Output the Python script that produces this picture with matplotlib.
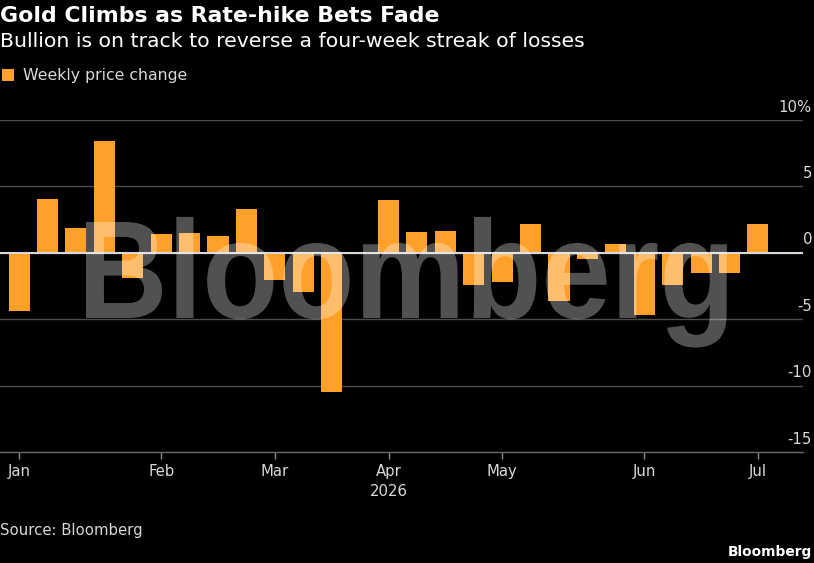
"""Gold weekly price change, Bloomberg-style bar chart."""

import matplotlib
import matplotlib.pyplot as plt
import matplotlib.dates as mdates
import matplotlib.transforms as mtransforms
import pandas as pd
from matplotlib.font_manager import FontProperties
from matplotlib.patches import PathPatch
from matplotlib.textpath import TextPath

matplotlib.use("Agg")

# weekly closes (Fridays), Jan 2 2026 -> Jul 3 2026
weeks = pd.date_range("2026-01-02", periods=27, freq="W-FRI")
change = [-4.4, 4.05, 1.9, 8.45, -1.9, 1.4, 1.5, 1.25, 3.3, -2.05, -2.95, -10.5, 0.0,
          4.0, 1.55, 1.65, -2.45, -2.2, 2.15, -3.6, -0.5, 0.65, -4.7, -2.45, -1.55,
          -1.55, 2.15]
y_ticks = [-15, -10, -5, 0, 5, 10]
y_labels = ["-15", "-10", "-5", "0", "5", "10%"]

ORANGE = "#ffa02a"
TXT = "#d9d9d9"
FONT = "DejaVu Sans"
W, H = 814, 563

plt.rcParams["font.family"] = FONT

fig = plt.figure(figsize=(W / 100, H / 100), dpi=100, facecolor="black")
ax = fig.add_axes([0, 1 - 452 / H, 803 / W, (452 - 120) / H])
ax.set_facecolor("black")

x = mdates.date2num(weeks)
ax.bar(x, change, width=5.2, color=ORANGE, label="Weekly price change", zorder=3)

ax.set_xlim(x[0] - 4.7, x[-1] + 11.1)
ax.set_ylim(-15, 10)

# grid + zero line
for v in y_ticks[1:]:
    ax.axhline(v, color="#4d4d4d", lw=1, zorder=1)
ax.axhline(0, color="#d8d8d8", lw=1.5, zorder=4)

for s in ["top", "right", "left"]:
    ax.spines[s].set_visible(False)
ax.spines["bottom"].set_color("#6a6a6a")
ax.spines["bottom"].set_linewidth(1)

# month ticks at first week of each month
first = weeks.to_series().groupby(weeks.month).first()
ax.set_xticks(mdates.date2num(first.values))
ax.set_xticklabels([d.strftime("%b") for d in first])
ax.tick_params(axis="x", colors="#8a8a8a", length=5, width=1, pad=3.5,
               labelcolor=TXT, labelsize=10.7)

ax.yaxis.tick_right()
ax.set_yticks(y_ticks)
ax.set_yticklabels(y_labels)
ax.tick_params(axis="y", length=0, pad=6.5, labelcolor=TXT, labelsize=10.7)
off = mtransforms.ScaledTranslation(0, 8.5 / 100, fig.dpi_scale_trans)
for lab in ax.get_yticklabels():
    lab.set_horizontalalignment("right")
    lab.set_verticalalignment("baseline")
    lab.set_transform(lab.get_transform() + off)

apr = first[first.index == 4].values[0]
ax.text(mdates.date2num(apr), -0.12, "2026", transform=ax.get_xaxis_transform(),
        ha="center", va="center", color=TXT, fontsize=10.7)

# titles
fig.text(0.0, 1 - 21.7 / H, "Gold Climbs as Rate-hike Bets Fade", color="white",
         fontsize=15.8, fontweight="bold", va="baseline")
fig.text(0.0, 1 - 46.7 / H, "Bullion is on track to reverse a four-week streak of losses",
         color="white", fontsize=14.65, va="baseline")
fig.legend(loc="upper left", bbox_to_anchor=(0.002, 1 - 68 / H), frameon=False,
           handlelength=0.8, handleheight=0.8, handletextpad=0.55, borderpad=0,
           borderaxespad=0, fontsize=11.3, labelcolor=TXT)

fig.text(0.0, 1 - 535 / H, "Source: Bloomberg", color=TXT, fontsize=10.7, va="baseline")
fig.text(812 / W, 1 - 556 / H, "Bloomberg", color="white", fontsize=9.9,
         fontweight="bold", ha="right", va="baseline")

# watermark
prop = FontProperties(family="Liberation Sans", weight="bold")
tp = TextPath((0, 0), "Bloomberg", size=100, prop=prop)
cap = TextPath((0, 0), "B", size=100, prop=prop).get_extents().height
ext = tp.get_extents()
sx = (727 - 86) / ext.width
sy = 96 / cap
tr = (mtransforms.Affine2D().translate(-ext.x0, 0).scale(sx / 100, sy / 100)
      .translate(86 / 100, (H - 318) / 100) + fig.dpi_scale_trans)
fig.add_artist(PathPatch(tp, transform=tr, facecolor="white", edgecolor="none",
                         alpha=0.32, zorder=5))

fig.savefig("out.png", dpi=100, facecolor="black")
